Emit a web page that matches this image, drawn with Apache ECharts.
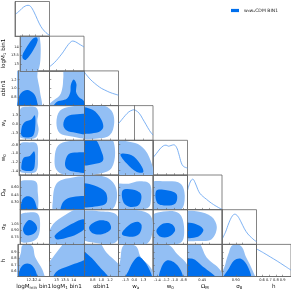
<!DOCTYPE html>
<html><head><meta charset="utf-8">
<script src="https://cdn.jsdelivr.net/npm/echarts@6/dist/echarts.min.js"></script>
<style>html,body{margin:0;padding:0;background:#fff}#c{width:291px;height:291px}</style>
</head><body><div id="c"></div>
<script>
// ---------- parameters ----------
const paramNames = ['{a|logM}{s|min}{a| bin1}','{a|logM}{s|1}{a| bin1}','{a|αbin1}','{a|w}{s|a}','{a|w}{s|0}','{a|Ω}{s|M}','{a|σ}{s|8}','{a|h}'];
const paramRanges = [[11.8,12.8],[12.6,14.6],[0.6,1.4],[-2.3,2.7],[-1.5,-0.7],[0.15,0.85],[0.6,1.35],[0.52,1.02]];
const paramTicks = [[12.0,12.2,12.4,12.6],[13,13.5,14],[0.8,1.0,1.2],[-1.3,0,1.3],[-1.4,-1.2,-1.0,-0.8],[0.30,0.45,0.60],[0.75,0.90,1.05],[0.6,0.7,0.8,0.9]];
const tickText = [['12.0','12.2','12.4','12.6'],['13','13.5','14'],['0.8','1.0','1.2'],['-1.3','0.0','1.3'],['-1.4','-1.2','-1.0','-0.8'],['0.30','0.45','0.60'],['0.75','0.90','1.05'],['0.6','0.7','0.8','0.9']];
const legendName = 'w₀wₐCDM BIN1';

// ---------- 1D marginals ----------
const pdf0 = [[11.8,0.63],[11.9,0.7],[12.0,0.8],[12.1,0.87],[12.18,0.89],[12.25,0.86],[12.35,0.7],[12.45,0.48],[12.55,0.28],[12.65,0.15],[12.75,0.06],[12.8,0.04]];
const pdf1 = [[12.6,0.12],[12.8,0.2],[13.0,0.3],[13.2,0.42],[13.4,0.55],[13.6,0.7],[13.8,0.82],[13.94,0.86],[14.1,0.84],[14.3,0.78],[14.5,0.72],[14.6,0.69]];
const pdf2 = [[0.6,0.98],[0.68,0.85],[0.76,0.74],[0.84,0.65],[0.92,0.57],[1.0,0.5],[1.08,0.45],[1.2,0.38],[1.32,0.33],[1.4,0.3]];
const pdf3 = [[-2.3,0.48],[-1.8,0.6],[-1.3,0.72],[-0.8,0.82],[-0.3,0.87],[-0.05,0.88],[0.2,0.86],[0.7,0.78],[1.2,0.62],[1.7,0.45],[2.2,0.28],[2.7,0.15]];
const pdf4 = [[-1.5,0.5],[-1.42,0.62],[-1.34,0.75],[-1.26,0.84],[-1.196,0.86],[-1.14,0.83],[-1.084,0.85],[-1.02,0.87],[-0.956,0.8],[-0.9,0.6],[-0.844,0.35],[-0.796,0.25],[-0.748,0.22],[-0.7,0.2]];
const pdf5 = [[0.15,0.55],[0.206,0.8],[0.255,0.88],[0.304,0.78],[0.36,0.58],[0.402,0.47],[0.465,0.38],[0.535,0.3],[0.605,0.22],[0.675,0.15],[0.745,0.09],[0.822,0.03],[0.85,0.02]];
const pdf6 = [[0.6,0.15],[0.675,0.35],[0.75,0.62],[0.825,0.82],[0.8775,0.87],[0.9375,0.82],[1.0125,0.65],[1.0875,0.45],[1.1625,0.3],[1.2375,0.2],[1.305,0.12],[1.35,0.08]];
const pdf7 = [[0.52,0.86],[0.62,0.74],[0.72,0.61],[0.82,0.48],[0.92,0.34],[1.02,0.2]];
const pdfs = [pdf0,pdf1,pdf2,pdf3,pdf4,pdf5,pdf6,pdf7];

// ---------- 2D contours (95% and 68%), in parameter units ----------
const c10_95 = [[11.7,12.4],[12.3,12.4],[12.45,12.8],[12.5,13.6],[12.48,14.4],[12.4,14.8],[11.7,14.8]];
const c10_68 = [[11.9,13.3],[12.0,13.24],[12.25,13.8],[12.4,14.36],[12.35,14.54],[12.2,14.4],[12.0,13.9],[11.88,13.5]];
const c20_95 = [[11.7,0.52],[12.52,0.52],[12.5,0.92],[12.42,1.24],[12.38,1.48],[11.7,1.48]];
const c20_68 = [[11.82,0.52],[12.4,0.52],[12.4,0.72],[12.3,0.88],[12.1,0.96],[11.92,0.9],[11.82,0.76]];
const c21_95 = [[13.5,1.48],[14.8,1.48],[14.8,0.52],[12.4,0.52],[12.7,0.68],[13.2,0.84],[13.36,1.04],[13.4,1.24]];
const c21_68 = [[14.0,1.2],[14.16,1.1],[14.14,0.92],[14.3,0.8],[14.6,0.7],[14.6,0.52],[12.8,0.52],[13.0,0.68],[13.6,0.76],[13.8,0.9],[13.84,1.08]];
const c30_95 = [[11.85,2.3],[12.1,2.55],[12.35,2.45],[12.43,1.7],[12.4,0.45],[12.44,-0.8],[12.35,-1.9],[12.05,-2.1],[11.8,-1.7],[11.77,0.2]];
const c30_68 = [[11.9,-1.7],[12.22,-1.8],[12.32,-0.8],[12.32,1.3],[12.2,0.7],[11.98,0.3],[11.88,-0.55]];
const c31_95 = [[13.0,0.2],[13.2,1.95],[13.8,2.55],[14.8,2.45],[14.8,-1.8],[13.8,-1.7],[13.2,-1.3]];
const c31_68 = [[13.4,-0.05],[13.6,1.1],[14.2,1.45],[14.8,1.3],[14.8,-1.3],[14.1,-1.2],[13.6,-0.9]];
const c32_95 = [[0.52,2.8],[1.0,2.8],[1.24,1.95],[1.3,0.2],[1.2,-1.55],[0.92,-2.05],[0.52,-1.8]];
const c32_68 = [[0.52,2.3],[0.8,2.1],[1.0,0.7],[1.04,-0.55],[0.88,-1.2],[0.52,-1.05]];
const c40_95 = [[11.83,-0.78],[12.15,-0.748],[12.38,-0.78],[12.42,-1.06],[12.36,-1.42],[12.0,-1.452],[11.8,-1.404],[11.77,-1.1]];
const c40_68 = [[11.9,-1.38],[12.25,-1.388],[12.32,-1.22],[12.3,-0.956],[12.15,-1.06],[11.95,-1.1],[11.88,-1.26]];
const c41_95 = [[12.9,-1.1],[13.1,-0.82],[13.7,-0.724],[14.8,-0.724],[14.8,-1.54],[13.6,-1.516],[13.0,-1.38]];
const c41_68 = [[13.5,-1.22],[13.7,-1.02],[14.2,-0.98],[14.8,-1.02],[14.8,-1.42],[14.0,-1.42],[13.6,-1.356]];
const c42_95 = [[0.52,-0.62],[1.2,-0.62],[1.32,-0.94],[1.24,-1.34],[1.0,-1.46],[0.52,-1.46]];
const c42_68 = [[0.52,-0.62],[0.84,-0.66],[1.0,-0.94],[1.04,-1.164],[0.84,-1.244],[0.52,-1.244]];
const c43_95 = [[-2.8,-0.748],[0.1,-0.764],[1.55,-0.924],[2.55,-1.26],[2.7,-1.54],[-1.55,-1.54],[-2.8,-1.34]];
const c43_68 = [[-2.0,-1.02],[-0.4,-1.044],[0.8,-1.236],[1.3,-1.428],[0.35,-1.428],[-1.1,-1.236]];
const c50_95 = [[11.8,0.71],[12.05,0.745],[12.35,0.71],[12.4,0.5],[12.42,0.255],[12.35,0.08],[11.75,0.08],[11.75,0.43]];
const c50_68 = [[11.85,0.08],[12.35,0.08],[12.32,0.29],[12.2,0.395],[12.0,0.416],[11.86,0.325]];
const c51_95 = [[12.8,0.36],[13.0,0.675],[13.6,0.78],[14.8,0.78],[14.8,0.08],[12.9,0.08]];
const c51_68 = [[13.3,0.08],[13.36,0.29],[13.8,0.395],[14.8,0.395],[14.8,0.08]];
const c52_95 = [[0.52,0.815],[1.08,0.815],[1.32,0.64],[1.36,0.36],[1.24,0.15],[0.84,0.115],[0.52,0.15]];
const c52_68 = [[0.52,0.654],[0.84,0.64],[1.1,0.5],[1.12,0.29],[0.92,0.22],[0.52,0.234]];
const c53_95 = [[-2.8,0.64],[-0.8,0.675],[0.7,0.724],[2.2,0.675],[2.45,0.43],[1.95,0.185],[-2.8,0.115]];
const c53_68 = [[-1.7,0.535],[-0.3,0.556],[0.95,0.465],[0.7,0.255],[-0.55,0.206],[-1.55,0.29]];
const c54_95 = [[-1.58,0.675],[-1.18,0.724],[-0.86,0.675],[-0.764,0.43],[-0.86,0.15],[-1.58,0.115]];
const c54_68 = [[-1.42,0.535],[-1.18,0.542],[-0.956,0.465],[-0.98,0.276],[-1.22,0.234],[-1.404,0.29]];
const c60_95 = [[11.8,1.2375],[12.1,1.29],[12.4,1.26],[12.48,1.05],[12.4,0.75],[12.1,0.645],[11.8,0.675],[11.75,0.975]];
const c60_68 = [[11.9,0.9375],[12.1,1.125],[12.3,1.065],[12.38,0.9375],[12.25,0.825],[12.0,0.8025]];
const c61_95 = [[12.5,0.6375],[12.7,0.975],[13.3,1.185],[14.3,1.3875],[14.8,1.3875],[14.8,0.7125],[14.2,0.5625],[13.2,0.5625]];
const c61_68 = [[12.9,0.7875],[13.4,0.9375],[14.0,1.065],[14.6,1.14],[14.7,0.975],[14.2,0.825],[13.5,0.735],[13.0,0.7125]];
const c62_95 = [[0.52,1.275],[1.0,1.3125],[1.36,1.2375],[1.44,0.9],[1.32,0.6375],[0.84,0.6375],[0.52,0.75]];
const c62_68 = [[0.72,0.975],[0.92,1.11],[1.16,1.0875],[1.224,0.9375],[1.04,0.825],[0.8,0.84]];
const c63_95 = [[-2.8,1.3125],[0.7,1.335],[2.45,1.2],[2.45,0.75],[1.2,0.5625],[-2.8,0.5625]];
const c63_68 = [[-1.8,0.825],[-0.8,1.0125],[0.45,1.0875],[1.05,1.0125],[0.7,0.825],[-0.55,0.765]];
const c64_95 = [[-1.54,1.2],[-1.26,1.3125],[-0.9,1.275],[-0.78,0.975],[-0.86,0.6375],[-1.54,0.615]];
const c64_68 = [[-1.42,0.9],[-1.26,1.05],[-1.06,1.035],[-0.988,0.9],[-1.14,0.765],[-1.34,0.7725]];
const c65_95 = [[0.08,1.275],[0.36,1.3125],[0.64,1.2],[0.745,0.975],[0.64,0.7125],[0.36,0.675],[0.08,0.7125]];
const c65_68 = [[0.08,1.05],[0.325,1.035],[0.472,0.915],[0.36,0.765],[0.08,0.765]];
const c70_95 = [[11.95,1.005],[12.25,0.995],[12.35,0.82],[12.58,0.62],[12.62,0.47],[11.75,0.47],[11.8,0.72],[11.9,0.895]];
const c70_68 = [[11.85,0.47],[12.4,0.47],[12.35,0.62],[12.2,0.71],[12.0,0.71],[11.86,0.62]];
const c71_95 = [[12.4,0.67],[12.8,0.82],[13.3,0.995],[13.5,1.07],[14.8,1.07],[14.8,0.47],[12.4,0.47]];
const c71_68 = [[12.84,0.47],[13.0,0.595],[13.6,0.67],[14.2,0.73],[14.8,0.77],[14.8,0.47]];
const c72_95 = [[0.52,1.07],[0.92,1.07],[1.12,0.895],[1.48,0.645],[1.48,0.47],[0.52,0.47]];
const c72_68 = [[0.52,0.92],[0.72,0.845],[0.96,0.67],[1.176,0.47],[0.52,0.47]];
const c73_95 = [[-1.55,1.005],[0.2,0.995],[0.95,0.82],[2.45,0.645],[2.7,0.47],[-2.55,0.47],[-2.05,0.77]];
const c73_68 = [[-1.3,0.47],[2.45,0.47],[2.1,0.645],[0.7,0.83],[-0.05,0.77],[-0.8,0.62]];
const c74_95 = [[-1.5,0.995],[-1.14,1.01],[-0.94,0.87],[-0.7,0.695],[-0.66,0.47],[-1.58,0.47],[-1.58,0.82]];
const c74_68 = [[-1.34,0.47],[-0.82,0.47],[-0.86,0.62],[-1.02,0.745],[-1.18,0.77],[-1.3,0.67]];
const c75_95 = [[0.08,1.07],[0.36,1.07],[0.535,0.82],[0.815,0.62],[0.85,0.47],[0.08,0.47]];
const c75_68 = [[0.08,0.77],[0.255,0.795],[0.43,0.695],[0.745,0.47],[0.08,0.47]];
const c76_95 = [[0.825,1.005],[1.0125,0.995],[1.125,0.82],[1.26,0.62],[1.3125,0.47],[0.6,0.47],[0.675,0.72],[0.75,0.895]];
const c76_68 = [[0.6225,0.47],[1.215,0.47],[1.1625,0.67],[1.0125,0.795],[0.8625,0.77],[0.75,0.645]];

const contours = {
  '1,0':[c10_95,c10_68],
  '2,0':[c20_95,c20_68],'2,1':[c21_95,c21_68],
  '3,0':[c30_95,c30_68],'3,1':[c31_95,c31_68],'3,2':[c32_95,c32_68],
  '4,0':[c40_95,c40_68],'4,1':[c41_95,c41_68],'4,2':[c42_95,c42_68],'4,3':[c43_95,c43_68],
  '5,0':[c50_95,c50_68],'5,1':[c51_95,c51_68],'5,2':[c52_95,c52_68],'5,3':[c53_95,c53_68],'5,4':[c54_95,c54_68],
  '6,0':[c60_95,c60_68],'6,1':[c61_95,c61_68],'6,2':[c62_95,c62_68],'6,3':[c63_95,c63_68],'6,4':[c64_95,c64_68],'6,5':[c65_95,c65_68],
  '7,0':[c70_95,c70_68],'7,1':[c71_95,c71_68],'7,2':[c72_95,c72_68],'7,3':[c73_95,c73_68],'7,4':[c74_95,c74_68],'7,5':[c75_95,c75_68],'7,6':[c76_95,c76_68]
};

// ---------- styles / layout ----------
const FONT = 'DejaVu Sans';
const DARK = '#006FED', LIGHT = '#93bff4', LINE = '#5d9ef0', FRAME = '#666';
const N = 8, L = 15, T = 1.5, W = 34.5, H = 34.7;
const richName = {a:{fontSize:5.6, fontFamily:FONT, color:'#111'}, s:{fontSize:4, fontFamily:FONT, color:'#111', verticalAlign:'bottom'}};

function fmt(p){ return v => { const i = paramTicks[p].findIndex(t => Math.abs(t - v) < 1e-9); return i >= 0 ? tickText[p][i] : ''; }; }

const grids = [], xAxis = [], yAxis = [], series = [];
for (let r = 0; r < N; r++) {
  for (let c = 0; c <= r; c++) {
    const gi = grids.length;
    grids.push({left:L + W*c, top:T + H*r, width:W, height:H, show:true, borderColor:FRAME, borderWidth:0.8, backgroundColor:'transparent'});
    const bottom = (r === N-1);
    xAxis.push({
      gridIndex:gi, type:'value', min:paramRanges[c][0], max:paramRanges[c][1], z:5,
      axisLine:{show:true, onZero:false, lineStyle:{color:FRAME, width:0.8}},
      splitLine:{show:false},
      axisTick:{show:true, inside:true, length:1.8, customValues:paramTicks[c], lineStyle:{color:FRAME, width:0.6}},
      axisLabel:{show:bottom, customValues:paramTicks[c], fontSize:3.6, fontFamily:FONT, color:'#222', margin:1.5, hideOverlap:false, formatter:fmt(c)},
      name: bottom ? paramNames[c] : '', nameLocation:'middle', nameGap:7.5,
      nameTextStyle:{rich:richName}
    });
    const diag = (r === c);
    const left = (c === 0 && r > 0);
    yAxis.push(diag ? {
      gridIndex:gi, type:'value', min:0, max:1, z:5,
      axisLine:{show:true, lineStyle:{color:FRAME, width:0.8}}, splitLine:{show:false},
      axisTick:{show:false}, axisLabel:{show:false}
    } : {
      gridIndex:gi, type:'value', min:paramRanges[r][0], max:paramRanges[r][1], z:5,
      axisLine:{show:true, onZero:false, lineStyle:{color:FRAME, width:0.8}},
      splitLine:{show:false},
      axisTick:{show:true, inside:true, length:1.8, customValues:paramTicks[r], lineStyle:{color:FRAME, width:0.6}},
      axisLabel:{show:left, customValues:paramTicks[r], fontSize:3.6, fontFamily:FONT, color:'#222', margin:1.2, hideOverlap:false, formatter:fmt(r)},
      name: left ? paramNames[r] : '', nameLocation:'middle', nameGap:10, nameRotate:90,
      nameTextStyle:{rich:richName}
    });
    if (diag) {
      series.push({type:'line', xAxisIndex:gi, yAxisIndex:gi, data:pdfs[r], smooth:0.4, showSymbol:false, silent:true,
        lineStyle:{color:LINE, width:0.8}, z:2});
    } else {
      const polys = contours[r + ',' + c];
      series.push({type:'custom', name:legendName, xAxisIndex:gi, yAxisIndex:gi, clip:true, silent:true, z:2,
        itemStyle:{color:DARK},
        data:[[paramRanges[c][0], paramRanges[r][0]], [paramRanges[c][0], paramRanges[r][0]]],
        renderItem:(params, api) => {
          const poly = polys[params.dataIndex];
          return {type:'polygon', shape:{points:poly.map(p => api.coord(p)), smooth:0.35},
            style:{fill: params.dataIndex === 0 ? LIGHT : DARK}};
        }});
    }
  }
}

const chart = echarts.init(document.getElementById('c'), null, {renderer:'canvas'});
chart.setOption({
  animation:false, backgroundColor:'#fff',
  grid:grids, xAxis:xAxis, yAxis:yAxis, series:series,
  legend:{data:[{name:legendName, icon:'rect'}], left:231, top:8, itemWidth:8, itemHeight:3.2, selectedMode:false,
    textStyle:{fontSize:4.6, fontFamily:FONT, color:'#222'}, padding:0, itemGap:2}
});
</script></body></html>
